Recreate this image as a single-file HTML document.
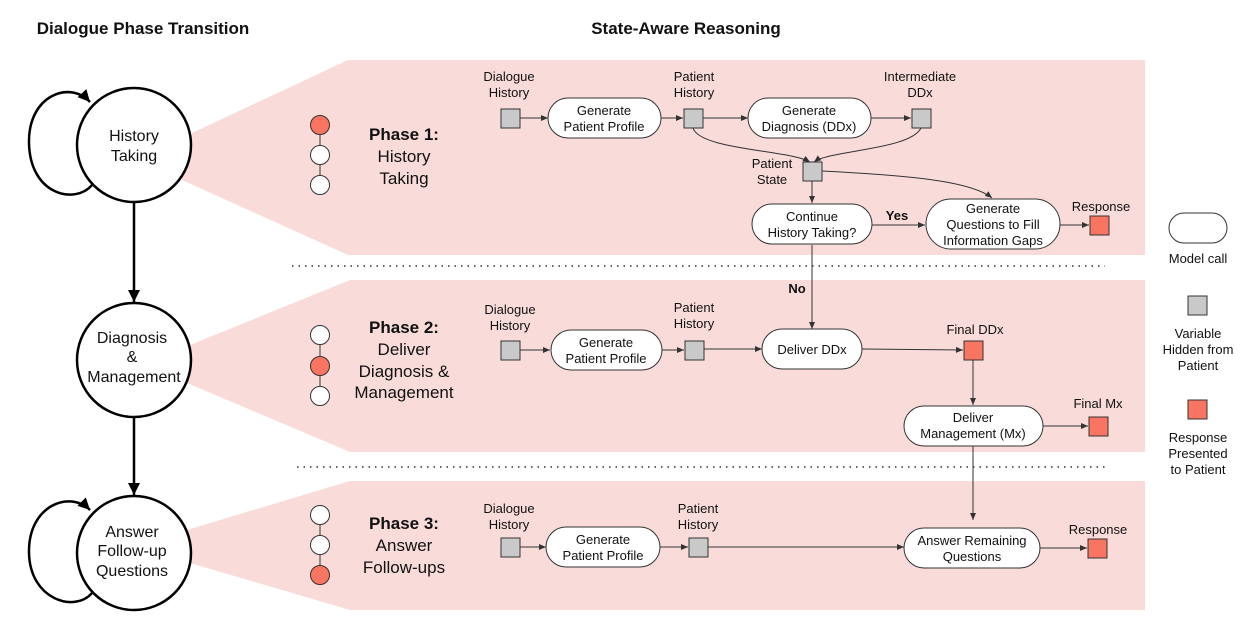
<!DOCTYPE html>
<html><head><meta charset="utf-8"><style>
body{margin:0;background:#fff}
text{font-family:"Liberation Sans",sans-serif;fill:#111}
.t{font-size:13px;text-anchor:middle}
.b{font-size:16px;text-anchor:middle}
</style></head><body>
<svg width="1250" height="620" viewBox="0 0 1250 620" xmlns="http://www.w3.org/2000/svg">
<defs>
<marker id="a" markerWidth="8" markerHeight="8" refX="7" refY="4" orient="auto" markerUnits="userSpaceOnUse"><path d="M0,1 L7,4 L0,7 z" fill="#333"/></marker>
<marker id="A" markerWidth="14" markerHeight="14" refX="12" refY="6" orient="auto" markerUnits="userSpaceOnUse"><path d="M0,0 L12,6 L0,12 z" fill="#000"/></marker>
</defs>
<!-- bands -->
<g fill="#f9dcda">
<polygon points="192,133 348,60 1145,60 1145,255 348,255 182,180"/>
<polygon points="190,345 350,280 1145,280 1145,452 350,452 187,383"/>
<polygon points="187,530 350,481 1145,481 1145,610 350,610 190,563"/>
</g>
<line x1="292" y1="266" x2="1105" y2="266" stroke="#333" stroke-width="1.5" stroke-dasharray="1.5,5"/>
<line x1="297" y1="467" x2="1105" y2="467" stroke="#333" stroke-width="1.5" stroke-dasharray="1.5,5"/>
<text x="143" y="34" style="font-size:17px;font-weight:bold;text-anchor:middle">Dialogue Phase Transition</text>
<text x="686" y="34" style="font-size:17px;font-weight:bold;text-anchor:middle">State-Aware Reasoning</text>
<!-- left circles -->
<g fill="none" stroke="#000" stroke-width="2.5">
<path d="M92,185 C75,205 30,195 29,143 C28,95 70,80 90,102" marker-end="url(#A)"/>
<path d="M92,593 C75,613 30,600 29,553 C28,505 70,490 90,510" marker-end="url(#A)"/>
<line x1="134" y1="202" x2="134" y2="302" marker-end="url(#A)"/>
<line x1="134" y1="417" x2="134" y2="495" marker-end="url(#A)"/>
</g>
<g fill="#fff" stroke="#000" stroke-width="2.5">
<circle cx="134" cy="145" r="57"/><circle cx="134" cy="360" r="57"/><circle cx="134" cy="553" r="57"/>
</g>
<text class="b" x="134" y="141">History</text><text class="b" x="134" y="161">Taking</text>
<text class="b" x="132" y="343">Diagnosis</text><text class="b" x="132" y="362">&amp;</text><text class="b" x="134" y="382">Management</text>
<text class="b" x="132" y="537">Answer</text><text class="b" x="132" y="556">Follow-up</text><text class="b" x="132" y="576">Questions</text>
<!-- mini dots -->
<g stroke="#333" stroke-width="1">
<line x1="320" y1="125" x2="320" y2="185"/><line x1="320" y1="335" x2="320" y2="395"/><line x1="320" y1="515" x2="320" y2="575"/>
<circle cx="320" cy="125" r="9.5" fill="#f87561"/><circle cx="320" cy="155" r="9.5" fill="#fff"/><circle cx="320" cy="185" r="9.5" fill="#fff"/>
<circle cx="320" cy="335" r="9.5" fill="#fff"/><circle cx="320" cy="366" r="9.5" fill="#f87561"/><circle cx="320" cy="396" r="9.5" fill="#fff"/>
<circle cx="320" cy="515" r="9.5" fill="#fff"/><circle cx="320" cy="545" r="9.5" fill="#fff"/><circle cx="320" cy="575" r="9.5" fill="#f87561"/>
</g>
<g style="font-size:17px;text-anchor:middle">
<text x="404" y="140" font-weight="bold">Phase 1:</text><text x="404" y="162">History</text><text x="404" y="184">Taking</text>
<text x="404" y="333" font-weight="bold">Phase 2:</text><text x="404" y="355">Deliver</text><text x="404" y="377">Diagnosis &amp;</text><text x="404" y="398">Management</text>
<text x="404" y="529" font-weight="bold">Phase 3:</text><text x="404" y="551">Answer</text><text x="404" y="573">Follow-ups</text>
</g>
<!-- connectors -->
<g fill="none" stroke="#333" stroke-width="1" marker-end="url(#a)">
<line x1="520" y1="118" x2="548" y2="118"/><line x1="661" y1="118" x2="683" y2="118"/><line x1="703" y1="118" x2="748" y2="118"/><line x1="871" y1="118" x2="911" y2="118"/>
<path d="M693,128 C700,150 790,150 810,162"/><path d="M921,128 C910,150 830,150 814,162"/>
<line x1="812" y1="181" x2="812" y2="203"/>
<path d="M822,171 C900,175 970,180 992,198"/>
<line x1="872" y1="225" x2="925" y2="225"/><line x1="1060" y1="225" x2="1089" y2="225"/>
<line x1="812" y1="245" x2="812" y2="329"/>
<line x1="520" y1="350" x2="550" y2="350"/><line x1="662" y1="350" x2="684" y2="350"/><line x1="704" y1="349" x2="762" y2="349"/><line x1="862" y1="349" x2="963" y2="350"/>
<line x1="973" y1="360" x2="973" y2="405"/><line x1="1043" y1="426" x2="1088" y2="426"/>
<line x1="973" y1="446" x2="973" y2="520"/>
<line x1="520" y1="547" x2="546" y2="547"/><line x1="660" y1="547" x2="688" y2="547"/><line x1="708" y1="547" x2="904" y2="547"/><line x1="1040" y1="548" x2="1087" y2="548"/>
</g>
<!-- model calls -->
<g fill="#fff" stroke="#333" stroke-width="1">
<rect x="548" y="98" width="113" height="40" rx="20"/>
<rect x="748" y="98" width="123" height="40" rx="20"/>
<rect x="752" y="204" width="120" height="40" rx="20"/>
<rect x="926" y="199" width="134" height="50" rx="25"/>
<rect x="551" y="330" width="111" height="40" rx="20"/>
<rect x="762" y="329" width="100" height="40" rx="20"/>
<rect x="904" y="406" width="139" height="40" rx="20"/>
<rect x="546" y="527" width="114" height="40" rx="20"/>
<rect x="904" y="528" width="136" height="40" rx="20"/>
<rect x="1169" y="213" width="58" height="30" rx="15"/>
</g>
<g fill="#c9c9c9" stroke="#333" stroke-width="1">
<rect x="501" y="109" width="19" height="19"/><rect x="684" y="109" width="19" height="19"/><rect x="912" y="109" width="19" height="19"/><rect x="803" y="162" width="19" height="19"/>
<rect x="501" y="341" width="19" height="19"/><rect x="685" y="341" width="19" height="19"/>
<rect x="501" y="538" width="19" height="19"/><rect x="689" y="538" width="19" height="19"/>
<rect x="1188" y="296" width="19" height="19"/>
</g>
<g fill="#f87561" stroke="#333" stroke-width="1">
<rect x="1090" y="216" width="19" height="19"/><rect x="964" y="341" width="19" height="19"/><rect x="1089" y="417" width="19" height="19"/><rect x="1088" y="539" width="19" height="19"/><rect x="1188" y="400" width="19" height="19"/>
</g>
<g class="t">
<text class="t" x="509" y="81">Dialogue</text><text class="t" x="509" y="97">History</text>
<text class="t" x="694" y="81">Patient</text><text class="t" x="694" y="97">History</text>
<text class="t" x="920" y="81">Intermediate</text><text class="t" x="920" y="97">DDx</text>
<text class="t" x="604" y="115">Generate</text><text class="t" x="604" y="131">Patient Profile</text>
<text class="t" x="809" y="115">Generate</text><text class="t" x="809" y="131">Diagnosis (DDx)</text>
<text class="t" x="772" y="168">Patient</text><text class="t" x="772" y="184">State</text>
<text class="t" x="812" y="221">Continue</text><text class="t" x="812" y="237">History Taking?</text>
<text class="t" x="993" y="213">Generate</text><text class="t" x="993" y="229">Questions to Fill</text><text class="t" x="993" y="245">Information Gaps</text>
<text class="t" x="1101" y="211">Response</text>
<text class="t" x="897" y="220" font-weight="bold">Yes</text>
<text class="t" x="797" y="293" font-weight="bold">No</text>
<text class="t" x="510" y="314">Dialogue</text><text class="t" x="510" y="330">History</text>
<text class="t" x="694" y="312">Patient</text><text class="t" x="694" y="328">History</text>
<text class="t" x="606" y="347">Generate</text><text class="t" x="606" y="363">Patient Profile</text>
<text class="t" x="812" y="354">Deliver DDx</text>
<text class="t" x="975" y="334">Final DDx</text>
<text class="t" x="973" y="422">Deliver</text><text class="t" x="973" y="438">Management (Mx)</text>
<text class="t" x="1098" y="408">Final Mx</text>
<text class="t" x="509" y="513">Dialogue</text><text class="t" x="509" y="529">History</text>
<text class="t" x="698" y="513">Patient</text><text class="t" x="698" y="529">History</text>
<text class="t" x="603" y="544">Generate</text><text class="t" x="603" y="560">Patient Profile</text>
<text class="t" x="972" y="545">Answer Remaining</text><text class="t" x="972" y="561">Questions</text>
<text class="t" x="1098" y="534">Response</text>
<text class="t" x="1198" y="263">Model call</text>
<text class="t" x="1198" y="338">Variable</text><text class="t" x="1198" y="354">Hidden from</text><text class="t" x="1198" y="370">Patient</text>
<text class="t" x="1198" y="442">Response</text><text class="t" x="1198" y="458">Presented</text><text class="t" x="1198" y="474">to Patient</text>
</g>
</svg>
</body></html>
